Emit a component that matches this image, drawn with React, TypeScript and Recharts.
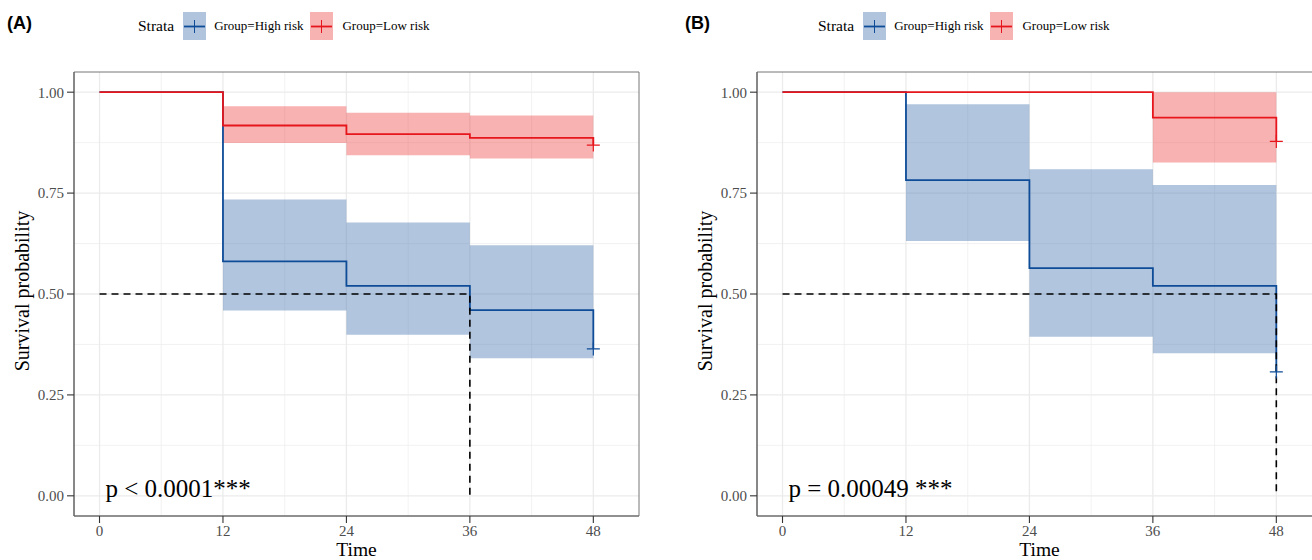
import React from 'react';
import {
  ComposedChart,
  Line,
  Area,
  Scatter,
  XAxis,
  YAxis,
  CartesianGrid,
  ReferenceDot,
  ReferenceArea,
} from 'recharts';

// ---------- shared axis values ----------
const timeTicks = [0, 12, 24, 36, 48];
const minorTimes = [6, 18, 30, 42];
const probTicks = [0, 0.25, 0.5, 0.75, 1];
const minorProbs = [0.125, 0.375, 0.625, 0.875];
const X_DOMAIN: [number, number] = [-2.48, 52.44];
const Y_DOMAIN: [number, number] = [-0.05, 1.05];
const groupNames = ['Group=High risk', 'Group=Low risk'];

// ---------- Panel A ----------
const aHighTimes = [0, 12, 24, 36, 48];
const aHighSurv = [1, 0.581, 0.52, 0.46, 0.364];
const aHighCiStarts = [12, 24, 36];
const aHighCiLower = [0.459, 0.399, 0.341];
const aHighCiUpper = [0.734, 0.677, 0.621];
const aLowTimes = [0, 12, 24, 36, 48];
const aLowSurv = [1, 0.9175, 0.896, 0.887, 0.869];
const aLowCiStarts = [12, 24, 36];
const aLowCiLower = [0.874, 0.844, 0.836];
const aLowCiUpper = [0.965, 0.949, 0.942];
const aMedianTimes = [0, 36, 36];
const aMedianVals = [0.5, 0.5, 0];
const aPText = 'p < 0.0001***';

// ---------- Panel B ----------
const bHighTimes = [0, 12, 24, 36, 48];
const bHighSurv = [1, 0.782, 0.564, 0.52, 0.307];
const bHighCiStarts = [12, 24, 36];
const bHighCiLower = [0.631, 0.394, 0.353];
const bHighCiUpper = [0.97, 0.809, 0.77];
const bLowTimes = [0, 36, 48];
const bLowSurv = [1, 0.937, 0.878];
const bLowCiStarts = [36];
const bLowCiLower = [0.826];
const bLowCiUpper = [1.0];
const bMedianTimes = [0, 48, 48];
const bMedianVals = [0.5, 0.5, 0];
const bPText = 'p = 0.00049 ***';

const END_TIME = 48;

// ---------- colours ----------
const BLUE = '#0E4C98';
const RED = '#E6161C';
const BLUE_FILL = '#4F7BB4';
const RED_FILL = '#EE1C1C';
const BLUE_KEY = '#B0C4DE';
const RED_KEY = '#F7B2B2';
const SERIF = '"Liberation Serif", "Times New Roman", serif';
const SANS = '"Liberation Sans", Arial, sans-serif';

const steps = (times: number[], vals: number[]) => times.map((t, i) => ({ t, s: vals[i] }));
const band = (starts: number[], lo: number[], hi: number[]) => [
  ...starts.map((t, i) => ({ t, lo: lo[i], hi: hi[i] })),
  { t: END_TIME, lo: lo[lo.length - 1], hi: hi[hi.length - 1] },
];
const lastPoint = (times: number[], vals: number[]) => [{ t: times[times.length - 1], s: vals[vals.length - 1] }];

const makePlus = (color: string) => (p: any) => {
  const { cx, cy } = p;
  if (cx == null || cy == null) return <g />;
  return (
    <path d={`M${cx - 6.5},${cy}h13M${cx},${cy - 6.5}v13`} stroke={color} strokeWidth={1.2} fill="none" />
  );
};

const TimeLabel = (props: any) => {
  const vb = props.viewBox || { x: 0, y: 0, width: 0, height: 0 };
  return (
    <text x={vb.x + vb.width / 2} y={vb.y + 39.5} textAnchor="middle" fontFamily={SERIF} fontSize={19.5} fill="#000">
      Time
    </text>
  );
};

const SurvLabel = (props: any) => {
  const vb = props.viewBox || { x: 0, y: 0, width: 0, height: 0 };
  const x = vb.x + 29;
  const y = vb.y + vb.height / 2 - 3;
  return (
    <text x={x} y={y} transform={`rotate(-90, ${x}, ${y})`} textAnchor="middle" fontFamily={SERIF} fontSize={20} fill="#000">
      Survival probability
    </text>
  );
};

const LegendKey = ({ line, fill }: { line: string; fill: string }) => (
  <svg width={23} height={28} style={{ display: 'block' }}>
    <rect x={0} y={0} width={23} height={28} fill={fill} />
    <line x1={1} x2={22} y1={14.5} y2={14.5} stroke={line} strokeWidth={1.8} />
    <line x1={11.5} x2={11.5} y1={8} y2={21} stroke={line} strokeWidth={1} />
  </svg>
);

type PanelProps = {
  left: number;
  tag: string;
  tagLeft: number;
  legendLeft: number;
  high: { s: number; t: number }[];
  low: { s: number; t: number }[];
  highBand: { t: number; lo: number; hi: number }[];
  lowBand: { t: number; lo: number; hi: number }[];
  highCensor: { s: number; t: number }[];
  lowCensor: { s: number; t: number }[];
  median: { s: number; t: number }[];
  pText: string;
};

const Panel = (p: PanelProps) => (
  <div style={{ position: 'absolute', left: p.left, top: 0, width: 656, height: 560 }}>
    <div
      style={{
        position: 'absolute',
        left: p.tagLeft,
        top: 14,
        fontFamily: SANS,
        fontWeight: 'bold',
        fontSize: 18,
        lineHeight: '18px',
        color: '#000',
      }}
    >
      {p.tag}
    </div>
    <div
      style={{
        position: 'absolute',
        left: p.legendLeft,
        top: 12,
        height: 28,
        display: 'flex',
        alignItems: 'center',
        fontFamily: SERIF,
        color: '#000',
        whiteSpace: 'nowrap',
      }}
    >
      <span style={{ fontSize: 15.5, marginRight: 9 }}>Strata</span>
      <LegendKey line={BLUE} fill={BLUE_KEY} />
      <span style={{ fontSize: 13, marginLeft: 8, marginRight: 7 }}>{groupNames[0]}</span>
      <LegendKey line={RED} fill={RED_KEY} />
      <span style={{ fontSize: 13, marginLeft: 9 }}>{groupNames[1]}</span>
    </div>
    <ComposedChart width={656} height={560} margin={{ top: 72, right: 17, bottom: 0, left: 0 }}>
      <CartesianGrid verticalValues={minorTimes} horizontalValues={minorProbs} stroke="#EDEDED" strokeWidth={0.7} />
      <CartesianGrid verticalValues={timeTicks} horizontalValues={probTicks} stroke="#EBEBEB" strokeWidth={1.3} />
      <XAxis
        dataKey="t"
        type="number"
        domain={X_DOMAIN}
        ticks={timeTicks}
        interval={0}
        allowDataOverflow
        height={44}
        tickSize={7}
        tickMargin={2}
        tick={{ fill: '#4D4D4D', fontSize: 15, fontFamily: SERIF }}
        axisLine={{ stroke: '#666', strokeWidth: 1.2 }}
        tickLine={{ stroke: '#333', strokeWidth: 1.1 }}
        label={<TimeLabel />}
      />
      <YAxis
        type="number"
        domain={Y_DOMAIN}
        ticks={probTicks}
        interval={0}
        allowDataOverflow
        width={74}
        tickSize={7}
        tickMargin={3}
        tickFormatter={(v: number) => v.toFixed(2)}
        tick={{ fill: '#4D4D4D', fontSize: 15, fontFamily: SERIF }}
        axisLine={{ stroke: '#666', strokeWidth: 1.2 }}
        tickLine={{ stroke: '#333', strokeWidth: 1.1 }}
        label={<SurvLabel />}
      />
      <Area
        data={p.highBand}
        dataKey={(d: any) => [d.lo, d.hi]}
        type="stepAfter"
        stroke="none"
        fill={BLUE_FILL}
        fillOpacity={0.44}
        isAnimationActive={false}
        activeDot={false}
        dot={false}
      />
      <Area
        data={p.lowBand}
        dataKey={(d: any) => [d.lo, d.hi]}
        type="stepAfter"
        stroke="none"
        fill={RED_FILL}
        fillOpacity={0.34}
        isAnimationActive={false}
        activeDot={false}
        dot={false}
      />
      <Line
        data={p.high}
        dataKey="s"
        type="stepAfter"
        stroke={BLUE}
        strokeWidth={1.8}
        dot={false}
        activeDot={false}
        isAnimationActive={false}
      />
      <Line
        data={p.low}
        dataKey="s"
        type="stepAfter"
        stroke={RED}
        strokeWidth={1.8}
        dot={false}
        activeDot={false}
        isAnimationActive={false}
      />
      <Line
        data={p.median}
        dataKey="s"
        type="linear"
        stroke="#000"
        strokeWidth={1.6}
        strokeDasharray="7 5"
        dot={false}
        activeDot={false}
        isAnimationActive={false}
      />
      <Scatter data={p.highCensor} dataKey="s" shape={makePlus(BLUE)} isAnimationActive={false} />
      <Scatter data={p.lowCensor} dataKey="s" shape={makePlus(RED)} isAnimationActive={false} />
      <ReferenceArea
        x1={X_DOMAIN[0]}
        x2={X_DOMAIN[1]}
        y1={Y_DOMAIN[0]}
        y2={Y_DOMAIN[1]}
        fill="none"
        stroke="#777"
        strokeWidth={1}
        ifOverflow="visible"
      />
      <ReferenceDot
        x={0}
        y={0.02}
        r={0}
        fill="none"
        stroke="none"
        ifOverflow="visible"
        label={{ value: p.pText, position: 'right', offset: 6, fill: '#000', fontSize: 25, fontFamily: SERIF }}
      />
    </ComposedChart>
  </div>
);

export default function App() {
  return (
    <div
      style={{
        position: 'fixed',
        left: 0,
        top: 0,
        width: 1312,
        height: 560,
        overflow: 'hidden',
        background: '#fff',
      }}
    >
      <Panel
        left={0}
        tag="(A)"
        tagLeft={7}
        legendLeft={138}
        high={steps(aHighTimes, aHighSurv)}
        low={steps(aLowTimes, aLowSurv)}
        highBand={band(aHighCiStarts, aHighCiLower, aHighCiUpper)}
        lowBand={band(aLowCiStarts, aLowCiLower, aLowCiUpper)}
        highCensor={lastPoint(aHighTimes, aHighSurv)}
        lowCensor={lastPoint(aLowTimes, aLowSurv)}
        median={steps(aMedianTimes, aMedianVals)}
        pText={aPText}
      />
      <Panel
        left={683}
        tag="(B)"
        tagLeft={2}
        legendLeft={135}
        high={steps(bHighTimes, bHighSurv)}
        low={steps(bLowTimes, bLowSurv)}
        highBand={band(bHighCiStarts, bHighCiLower, bHighCiUpper)}
        lowBand={band(bLowCiStarts, bLowCiLower, bLowCiUpper)}
        highCensor={lastPoint(bHighTimes, bHighSurv)}
        lowCensor={lastPoint(bLowTimes, bLowSurv)}
        median={steps(bMedianTimes, bMedianVals)}
        pText={bPText}
      />
    </div>
  );
}
